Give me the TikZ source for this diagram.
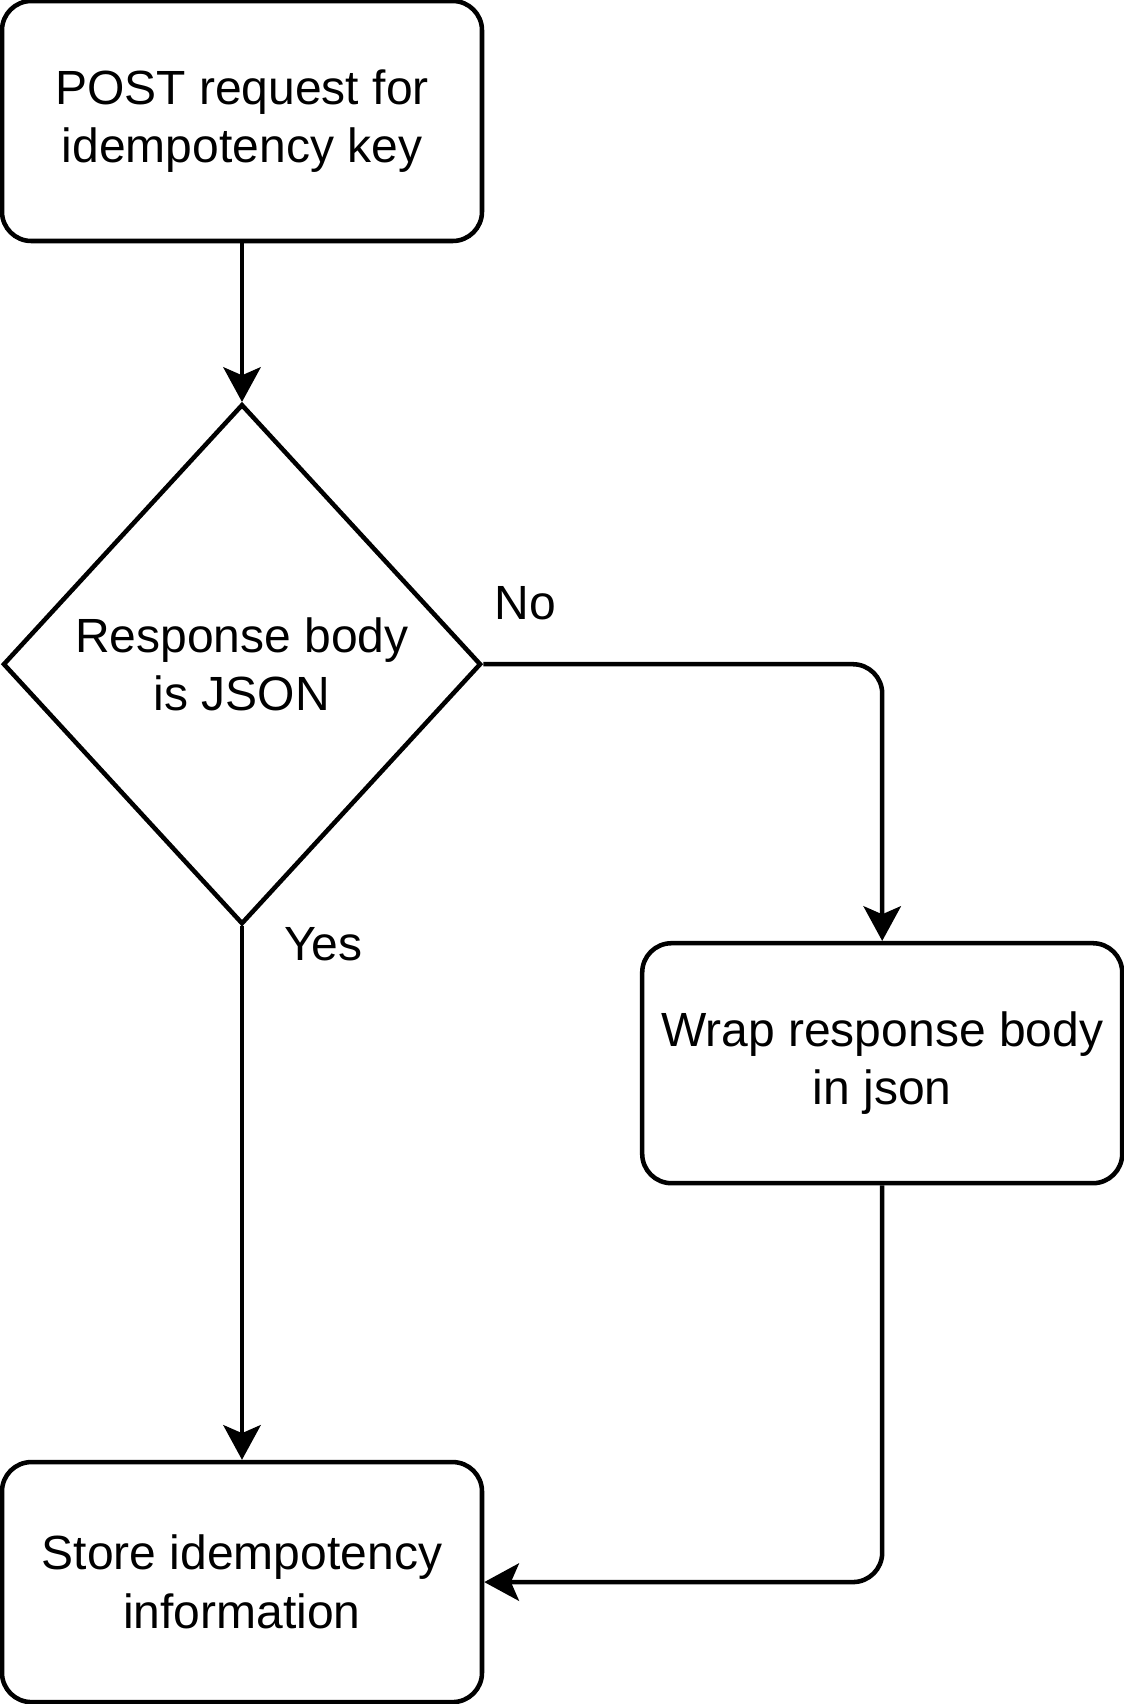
\documentclass[tikz,border=0pt]{standalone}
\usepackage{fontspec}
\setmainfont{Liberation Sans}
\usetikzlibrary{arrows.meta,positioning,shapes.geometric}

\begin{document}
\begin{tikzpicture}[
  line width=3.4pt,
  every node/.style={align=center,font=\fontsize{36}{44}\selectfont},
  stepbox/.style={draw,rounded corners=22pt,minimum width=360pt,minimum height=180pt,inner sep=0pt},
  decision/.style={draw,diamond,aspect=0.92,minimum width=358.5pt,minimum height=390pt,inner sep=0pt},
  flow/.style={draw,rounded corners=22pt,-{Stealth[length=26pt,width=28pt,inset=6pt]}}
]
  \useasboundingbox (0,0) rectangle (843pt,-1278pt);
  \node (request) [stepbox] at (181.5pt,-90.75pt) {POST request for\\idempotency key};
  \node (isjson) [decision,below=119pt of request] {Response body\\is JSON};
  \node (store) [stepbox,below=400pt of isjson] {Store idempotency\\information};
  \node (wrap) [stepbox,right=117.5pt of isjson.east,anchor=west,yshift=-299.25pt] {Wrap response body\\in json};
  \path[flow] (request) -- (isjson);
  \path[flow] (isjson.east) -| (wrap.north);
  \path[flow] (isjson.south) -- (store.north);
  \path[flow] (wrap.south) |- (store.east);
  \node (no) [right=7pt of isjson.east,yshift=46pt,inner sep=0pt] {No};
  \node (yes) [below=-1pt of isjson.south,xshift=61pt,inner sep=0pt] {Yes};
\end{tikzpicture}
\end{document}
